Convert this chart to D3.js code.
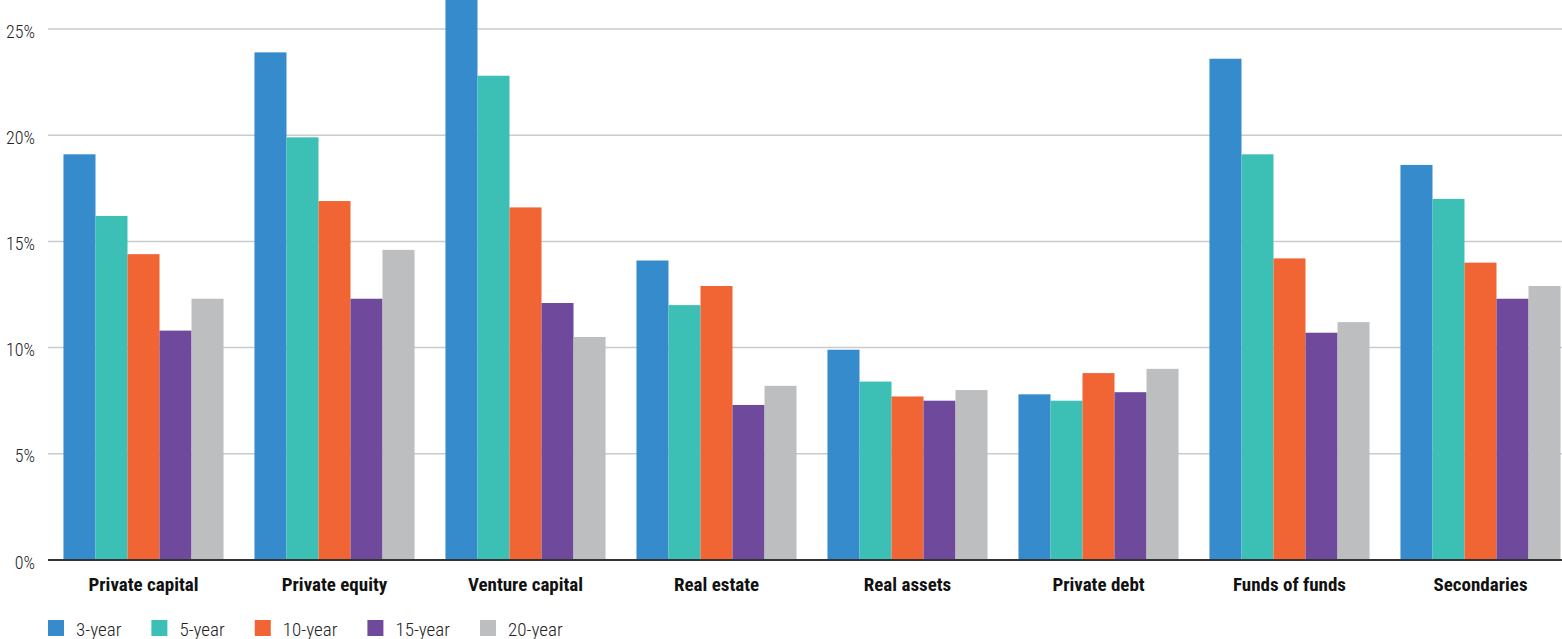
<!DOCTYPE html>
<html>
<head>
<meta charset="utf-8">
<title>Returns by strategy</title>
<style>
  body { margin: 0; background: #fff; }
  svg text { font-family: "Roboto Condensed", "Liberation Sans Narrow", "Roboto", sans-serif; }
</style>
</head>
<body>
<svg id="chart"></svg>
<script src="https://d3js.org/d3.v7.min.js"></script>
<script>
var categories = ["Private capital", "Private equity", "Venture capital", "Real estate",
                  "Real assets", "Private debt", "Funds of funds", "Secondaries"];
var seriesNames = ["3-year", "5-year", "10-year", "15-year", "20-year"];
var colors = ["#358bcb", "#3cbfb4", "#f16434", "#6e499c", "#bdbec0"];

var threeYear   = [19.1, 23.9, 27.5, 14.1, 9.9, 7.8, 23.6, 18.6];
var fiveYear    = [16.2, 19.9, 22.8, 12.0, 8.4, 7.5, 19.1, 17.0];
var tenYear     = [14.4, 16.9, 16.6, 12.9, 7.7, 8.8, 14.2, 14.0];
var fifteenYear = [10.8, 12.3, 12.1, 7.3, 7.5, 7.9, 10.7, 12.3];
var twentyYear  = [12.3, 14.6, 10.5, 8.2, 8.0, 9.0, 11.2, 12.9];
var yTicks = [0, 5, 10, 15, 20, 25];

(function() {
var series = [threeYear, fiveYear, tenYear, fifteenYear, twentyYear];

var svgWidth = 1562, svgHeight = 639;
var plotLeft = 48, plotRight = 1576, plotTop = 29, plotBottom = 560;

var svg = d3.select("#chart")
    .attr("width", svgWidth)
    .attr("height", svgHeight);

// title, mostly cropped off the top like the original
svg.append("text")
    .attr("x", 308)
    .attr("y", -5)
    .attr("text-anchor", "end")
    .style("font-size", "26px")
    .style("font-weight", "bold")
    .text("Annualized returns by strategy");

var x0 = d3.scaleBand()
    .domain(categories)
    .range([plotLeft, plotRight])
    .paddingInner(0.162)
    .paddingOuter(0.081);

var x1 = d3.scaleBand()
    .domain(seriesNames)
    .range([0, x0.bandwidth()]);

var y = d3.scaleLinear()
    .domain([0, 25])
    .range([plotBottom, plotTop]);

// gridlines
svg.append("g")
    .selectAll("line")
    .data(yTicks.filter(function(d) { return d > 0; }))
    .enter()
    .append("line")
    .attr("x1", plotLeft)
    .attr("x2", svgWidth)
    .attr("y1", function(d) { return y(d); })
    .attr("y2", function(d) { return y(d); })
    .attr("stroke", "#cbcbcb")
    .attr("stroke-width", 1.5);

// y axis labels
var yAxis = d3.axisLeft(y)
    .tickValues(yTicks)
    .tickSize(0)
    .tickPadding(0)
    .tickFormat(function(d) { return d + "%"; });

var yg = svg.append("g")
    .attr("transform", "translate(35,0)")
    .call(yAxis);
yg.select(".domain").remove();
yg.selectAll("text")
    .attr("dy", "0.45em")
    .style("font-size", "18px")
    .style("font-weight", "300")
    .attr("fill", "#222");

// bars
var groups = svg.append("g")
    .selectAll("g")
    .data(categories)
    .enter()
    .append("g")
    .attr("transform", function(d) { return "translate(" + x0(d) + ",0)"; });

groups.selectAll("rect")
    .data(function(d, i) {
        return series.map(function(s, j) { return { key: seriesNames[j], value: s[i], color: colors[j] }; });
    })
    .enter()
    .append("rect")
    .attr("x", function(d) { return x1(d.key); })
    .attr("width", x1.bandwidth())
    .attr("y", function(d) { return y(d.value); })
    .attr("height", function(d) { return plotBottom - y(d.value); })
    .attr("fill", function(d) { return d.color; });

// baseline
svg.append("line")
    .attr("x1", plotLeft)
    .attr("x2", svgWidth)
    .attr("y1", plotBottom)
    .attr("y2", plotBottom)
    .attr("stroke", "#333")
    .attr("stroke-width", 2);

// category labels
var xAxis = d3.axisBottom(x0).tickSize(0).tickPadding(0);
var xg = svg.append("g")
    .attr("transform", "translate(0," + (plotBottom + 17) + ")")
    .call(xAxis);
xg.select(".domain").remove();
xg.selectAll("text")
    .style("font-size", "19px")
    .style("font-weight", "bold")
    .attr("fill", "#111");

// legend
var legend = svg.append("g").attr("transform", "translate(48,620)");
var lx = 0;
seriesNames.forEach(function(name, i) {
    var item = legend.append("g").attr("transform", "translate(" + lx + ",0)");
    item.append("rect")
        .attr("width", 16)
        .attr("height", 16)
        .attr("fill", colors[i]);
    var t = item.append("text")
        .attr("x", 28)
        .attr("y", 16)
        .style("font-size", "19px")
        .style("font-weight", "300")
        .attr("fill", "#222")
        .text(name);
    lx += 28 + t.node().getComputedTextLength() + 30;
});
})();
</script>
</body>
</html>
